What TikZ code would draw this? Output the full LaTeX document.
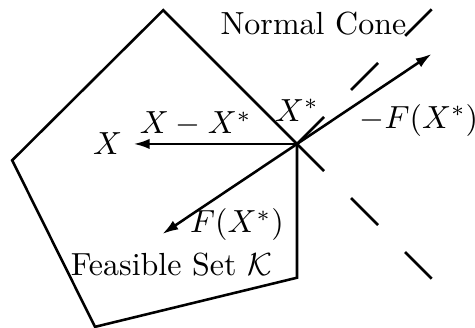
\documentclass[tikz,border=0pt]{standalone}
\usetikzlibrary{arrows.meta,positioning}
\begin{document}
\begin{tikzpicture}[
  bound/.style={thick,line join=miter},
  vec/.style={-{Latex[length=5pt,width=3.2pt]},thick},
  cone/.style={thick,dash pattern=on 0.42cm off 0.42cm}
]
\useasboundingbox (-3.264,-2.022) rectangle (1.956,1.582);
\coordinate (xs) at (0,0);
\coordinate (top) at (-1.47,1.47);
\coordinate (left) at (-3.13,-0.18);
\coordinate (bot) at (-2.22,-2.01);
\coordinate (br) at (0,-1.47);
\coordinate (c1) at (1.48,1.48);
\coordinate (c2) at (1.48,-1.48);
\coordinate (mf) at (1.48,0.99);
\coordinate (f) at (-1.48,-0.99);
\node (x) at (-2.08,0) {$X$};
\draw[bound] (xs)--(top)--(left)--(bot)--(br)--cycle;
\draw[cone] (xs)--(c1);
\draw[cone] (xs)--(c2);
\draw[vec] (xs)--node[above,pos=.62,inner sep=2pt] (diff) {$X-X^*$}(x);
\draw[vec] (xs)--(mf);
\draw[vec] (xs)--(f);
\node (xstar) at (0,0.37) {$X^*$};
\node[inner sep=1pt] (mfl) at (1.34,0.26) {$-F(X^*)$};
\node (fl) at (-0.66,-0.89) {$F(X^*)$};
\node (cone) at (0.18,1.32) {Normal Cone};
\node (set) at (-1.38,-1.33) {Feasible Set $\mathcal{K}$};
\end{tikzpicture}
\end{document}
